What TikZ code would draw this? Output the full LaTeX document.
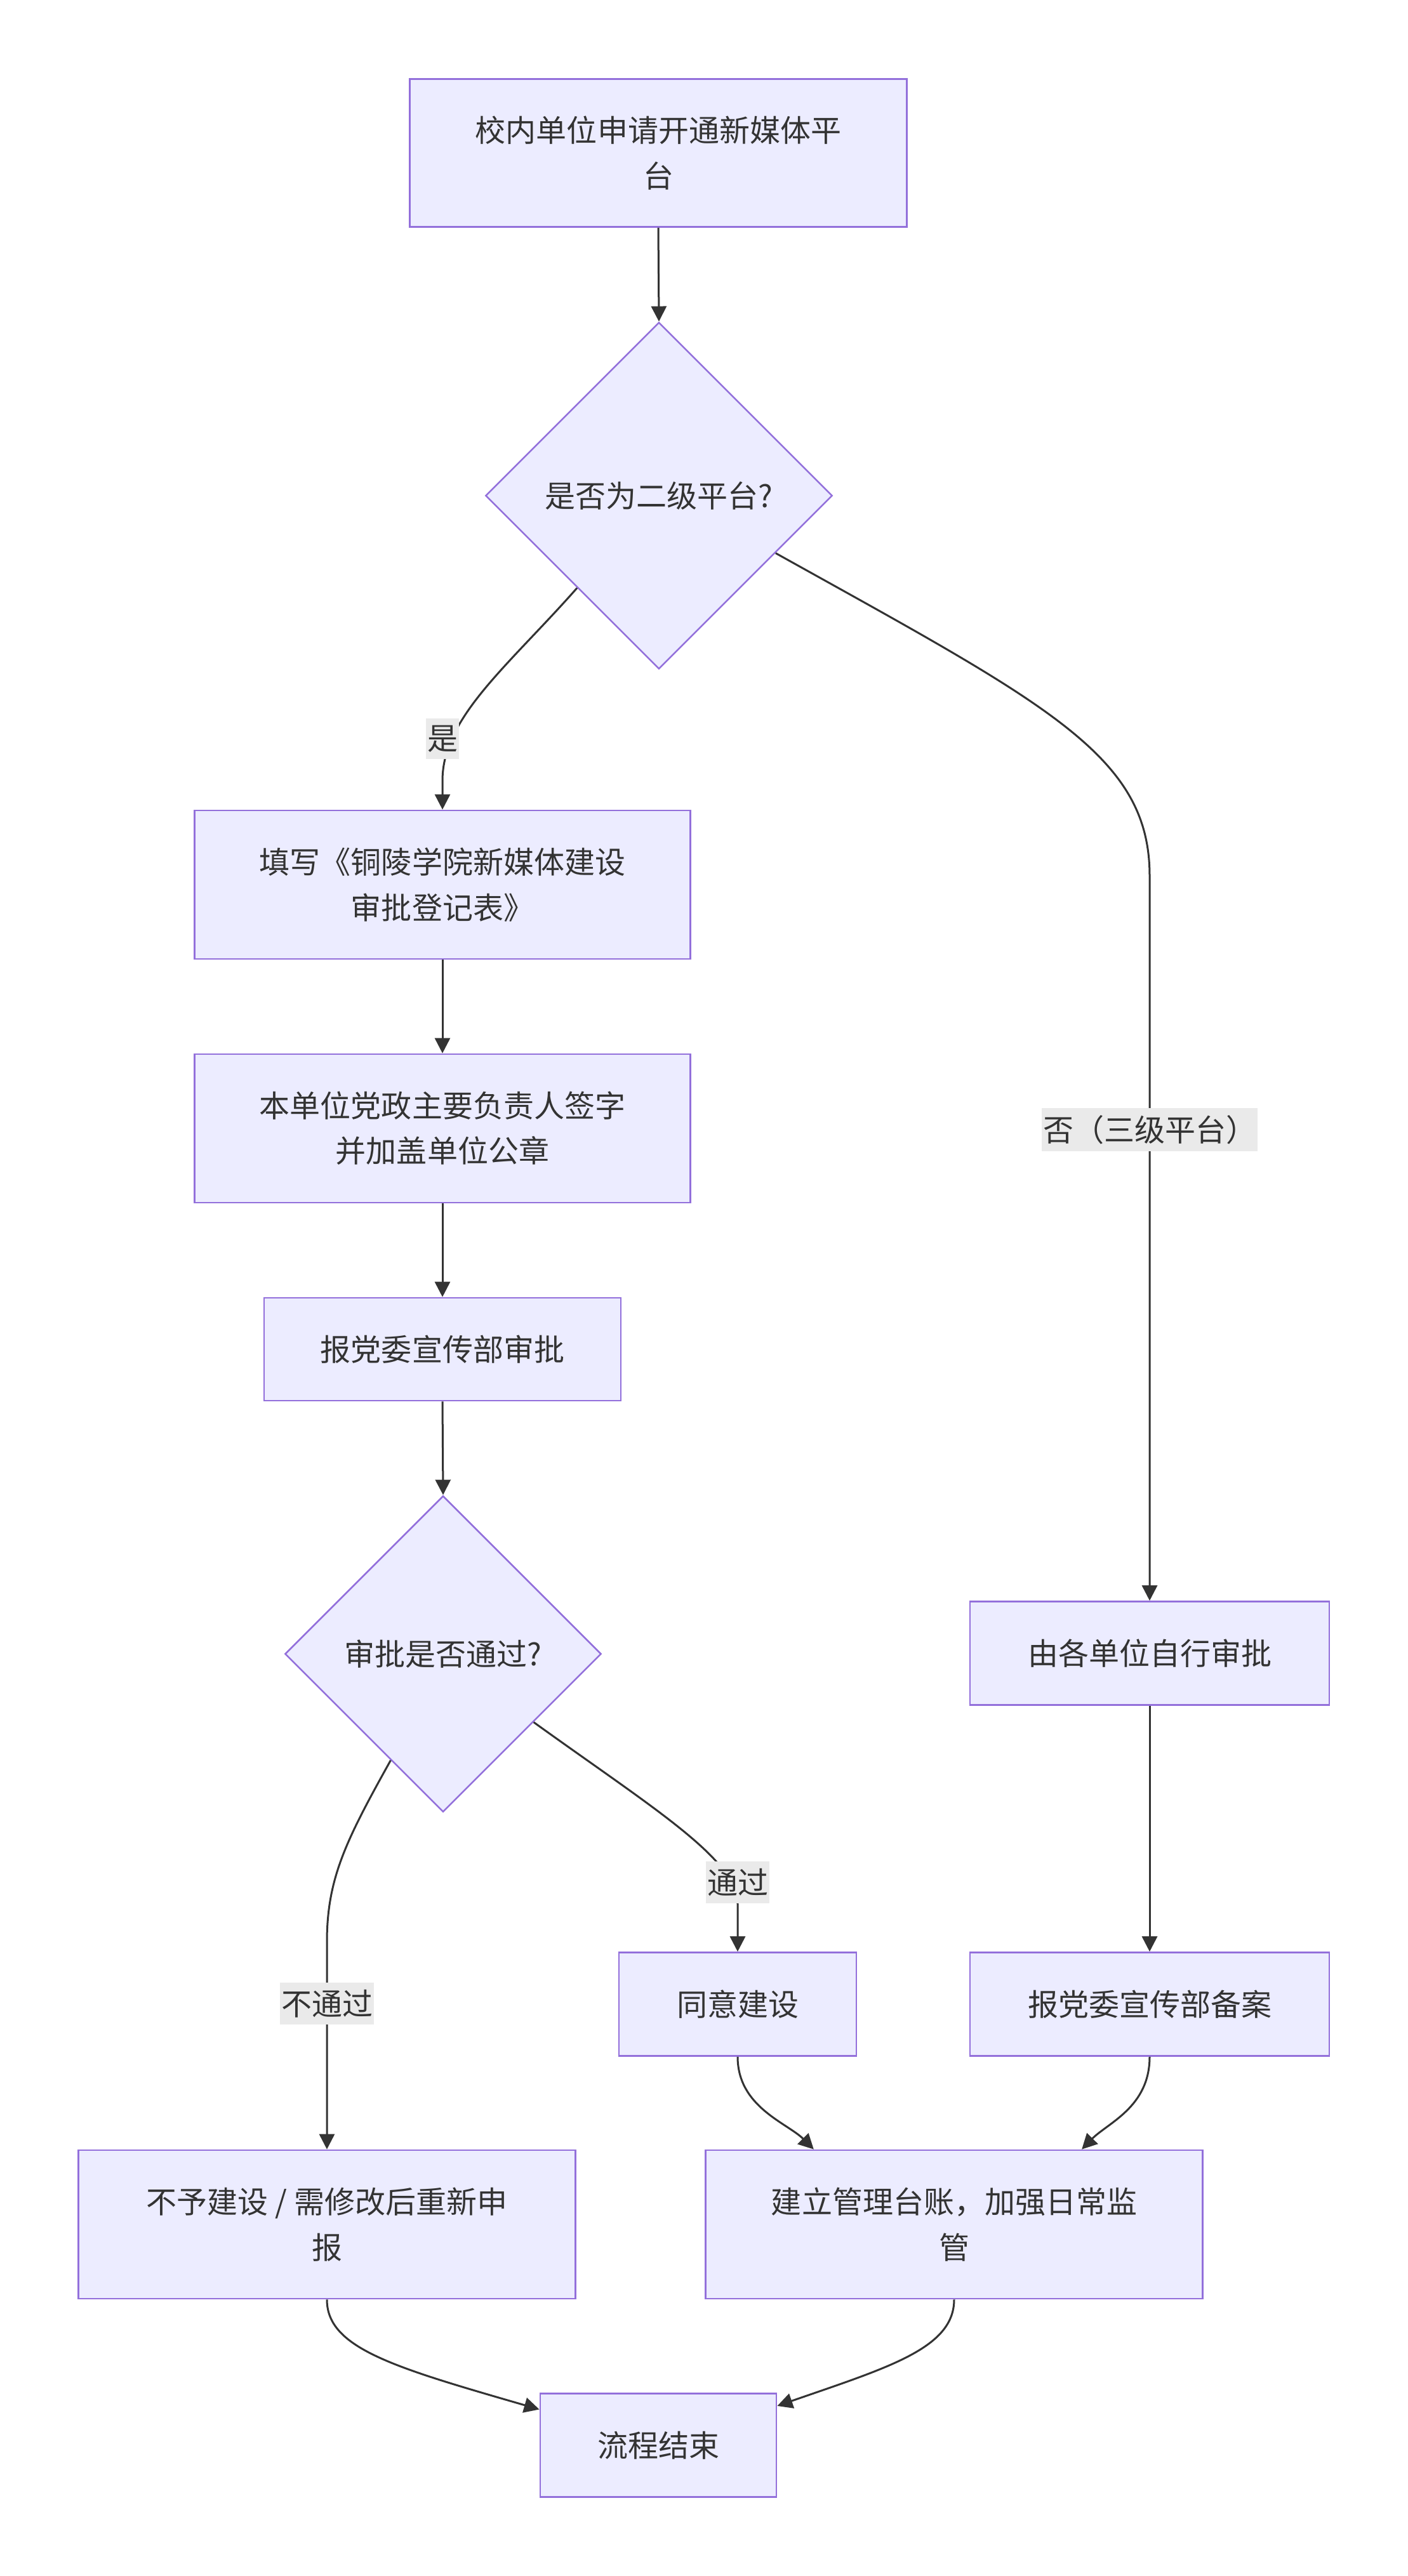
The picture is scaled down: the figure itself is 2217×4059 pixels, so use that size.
\documentclass[tikz,border=0pt]{standalone}
\usepackage{fontspec}
\newfontfamily\cjk{Noto Sans CJK SC}
\usetikzlibrary{shapes.geometric,arrows.meta,calc}
\definecolor{boxfill}{HTML}{ECECFF}
\definecolor{boxline}{HTML}{9370DB}
\definecolor{ink}{HTML}{333333}
\definecolor{lblbg}{HTML}{EAEAEA}
\tikzset{
  box/.style={draw=boxline, fill=boxfill, line width=0.026cm, rectangle, inner sep=0pt,
    align=center, text=ink, font=\cjk\fontsize{13.65pt}{20.3pt}\selectfont},
  dec/.style={box, shape=diamond, aspect=1},
  conn/.style={draw=ink, line width=0.03cm, -{Triangle[length=0.24cm,width=0.24cm]}},
  lbl/.style={fill=lblbg, inner xsep=0.02cm, inner ysep=0.11cm, text=ink,
    font=\cjk\fontsize{13.65pt}{20.3pt}\selectfont}
}
\begin{document}
\begin{tikzpicture}[x=0.01cm,y=-0.01cm]
\useasboundingbox (0,0) rectangle (2217,4059);
\fill[white] (0,0) rectangle (2217,4059);

\node[box, minimum width=7.82cm, minimum height=2.33cm] (A) at (1037,241) {校内单位申请开通新媒体平\\台};
\node[dec, minimum width=5.46cm, minimum height=5.46cm] (B) at (1038,781) {是否为二级平台?};
\node[box, minimum width=7.81cm, minimum height=2.34cm] (C) at (697,1394) {填写《铜陵学院新媒体建设\\审批登记表》};
\node[box, minimum width=7.81cm, minimum height=2.34cm] (D) at (697,1778) {本单位党政主要负责人签字\\并加盖单位公章};
\node[box, minimum width=5.62cm, minimum height=1.62cm] (E) at (697,2126) {报党委宣传部审批};
\node[dec, minimum width=4.98cm, minimum height=4.98cm] (F) at (698,2606) {审批是否通过?};
\node[box, minimum width=5.66cm, minimum height=1.63cm] (G) at (1811,2605) {由各单位自行审批};
\node[box, minimum width=3.74cm, minimum height=1.63cm] (H) at (1162,3158) {同意建设};
\node[box, minimum width=5.66cm, minimum height=1.63cm] (I) at (1811,3158) {报党委宣传部备案};
\node[box, minimum width=7.82cm, minimum height=2.34cm] (J) at (515,3505) {不予建设 / 需修改后重新申\\报};
\node[box, minimum width=7.82cm, minimum height=2.34cm] (K) at (1503,3505) {建立管理台账，加强日常监\\管};
\node[box, minimum width=3.72cm, minimum height=1.63cm] (L) at (1037,3853) {流程结束};

\draw[conn] (A.south) -- (B.north);
\draw[conn] ($(B.west)!0.53!(B.south)$) .. controls (800,1050) and (697,1130) .. (697,1230) -- (C.north);
\draw[conn] ($(B.east)!0.33!(B.south)$) .. controls (1650,1110) and (1811,1190) .. (1811,1380) -- (G.north);
\draw[conn] (C.south) -- (D.north);
\draw[conn] (D.south) -- (E.north);
\draw[conn] (E.south) -- (F.north);
\draw[conn] ($(F.west)!0.67!(F.south)$) .. controls (545,2900) and (515,2960) .. (515,3060) -- (J.north);
\draw[conn] ($(F.east)!0.43!(F.south)$) .. controls (1030,2850) and (1162,2930) .. (1162,3000) -- (H.north);
\draw[conn] (G.south) -- (I.north);
\draw[conn] (H.south) .. controls (1162,3320) and (1240,3345) .. ([xshift=-2.21cm]K.north);
\draw[conn] (I.south) .. controls (1811,3320) and (1745,3345) .. ([xshift=2.01cm]K.north);
\draw[conn] (J.south) .. controls (515,3700) and (620,3730) .. ([yshift=0.565cm]L.west);
\draw[conn] (K.south) .. controls (1503,3700) and (1400,3730) .. ([yshift=0.62cm]L.east);

\node[lbl] (l1) at (697,1164) {是};
\node[lbl] (l2) at (1811,1780) {否（三级平台）};
\node[lbl] (l3) at (1162,2966) {通过};
\node[lbl] (l4) at (515,3157) {不通过};
\end{tikzpicture}
\end{document}
